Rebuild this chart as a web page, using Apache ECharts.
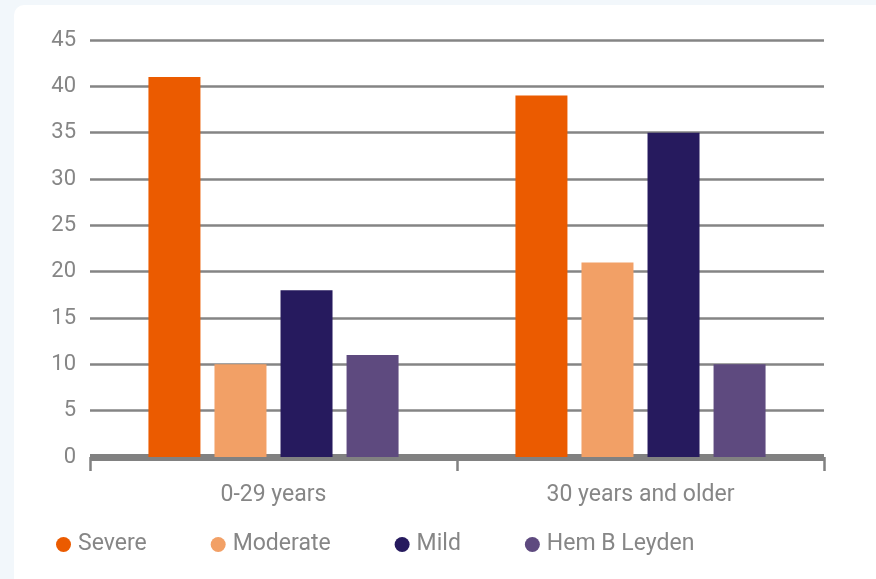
<!DOCTYPE html>
<html>
<head>
<meta charset="utf-8">
<script src="https://cdn.jsdelivr.net/npm/echarts@6/dist/echarts.min.js"></script>
<style>
  html, body { margin: 0; padding: 0; width: 876px; height: 579px; overflow: hidden; background: #f2f7fb; }
  #card { position: absolute; left: 14px; top: 5px; width: 900px; height: 620px; background: #ffffff; border-radius: 10px; }
  #chart { position: absolute; left: 0; top: 0; width: 876px; height: 579px; }
</style>
</head>
<body>
<div id="card"></div>
<div id="chart"></div>
<script>
const categories = ['0-29 years', '30 years and older'];
const seriesNames = ['Severe', 'Moderate', 'Mild', 'Hem B Leyden'];
const severe = [41, 39];
const moderate = [10, 21];
const mild = [18, 35];
const hemBLeyden = [11, 10];
const yTicks = [0, 5, 10, 15, 20, 25, 30, 35, 40, 45];

const colors = ['#EB5B00', '#F2A066', '#261A5E', '#5E4A7F'];
const seriesData = [severe, moderate, mild, hemBLeyden];
const FONT = 'Roboto';
const TEXT = '#868686';

const chart = echarts.init(document.getElementById('chart'), null, { renderer: 'canvas' });
chart.setOption({
  backgroundColor: 'transparent',
  animation: false,
  color: colors,
  textStyle: { fontFamily: FONT },
  grid: { left: 90, right: 52, top: 40, bottom: 122, containLabel: false },
  legend: {
    data: seriesNames,
    left: 51,
    top: 528,
    icon: 'circle',
    itemWidth: 15,
    itemHeight: 15,
    itemGap: 64,
    textStyle: { color: TEXT, fontSize: 23, fontFamily: FONT, padding: [0, 0, 0, 2] }
  },
  xAxis: {
    type: 'category',
    data: categories,
    axisLine: { show: true, lineStyle: { color: '#818181', width: 7, cap: 'butt' } },
    axisTick: { show: true, length: 14, lineStyle: { color: '#818181', width: 2.5 } },
    axisLabel: { color: TEXT, fontSize: 23, fontFamily: FONT, margin: 27 },
    splitLine: { show: false }
  },
  yAxis: {
    type: 'value',
    min: yTicks[0],
    max: yTicks[yTicks.length - 1],
    interval: 5,
    axisLine: { show: false },
    axisTick: { show: false },
    axisLabel: { color: TEXT, fontSize: 22, fontFamily: FONT, margin: 14 },
    splitLine: { show: true, lineStyle: { color: '#858585', width: 2.5 } }
  },
  series: seriesNames.map((name, i) => ({
    name: name,
    type: 'bar',
    data: seriesData[i],
    barWidth: 52,
    barGap: '27%',
    itemStyle: { color: colors[i] }
  }))
});
</script>
</body>
</html>
